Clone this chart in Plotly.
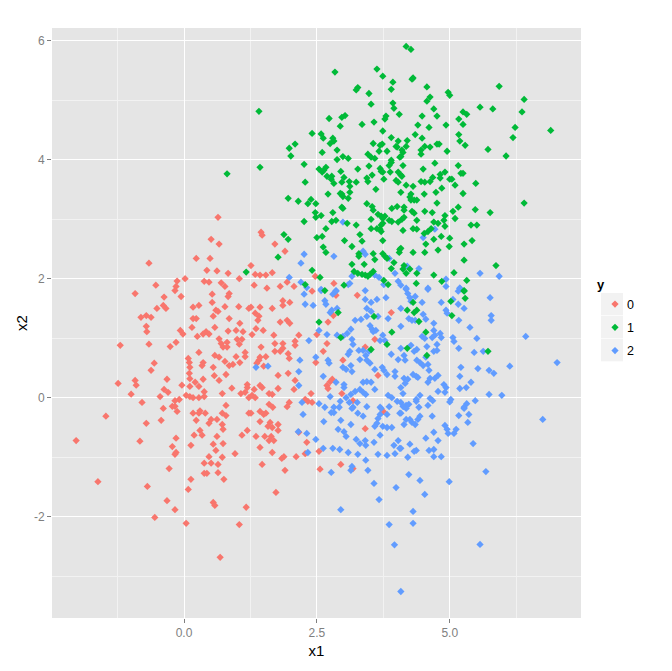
import plotly.graph_objects as go

x0 = [0.64,0.51,0.66,-0.66,0.23,0.49,0.43,0.62,0.83,1.04,0.02,-0.13,-0.15,-0.17,-0.53,-0.92,-0.375,-0.055,0.38,0.47,0.70,0.77,0.53,0.85,0.83,0.53,-0.39,-0.34,-0.51,0.17,0.28,0.60,0.64,0.77,1.03,1.22,-0.81,-0.71,-0.62,0.17,0.23,0.55,0.85,1.05,-0.71,-0.70,-0.07,-0.02,0.15,0.58,0.415,0.36,0.47,0.25,0.83,0.98,1.11,0.66,-1.20,-0.66,-0.15,-0.26,1.0,1.09,1.04,0.70,0.81,0.735,0.81,0.28,1.15,1.15,0.98,0.58,0.66,0.08,0.10,0.11,0.77,1.05,0.92,0.85,0.36,0.34,0.55,-0.56,-0.62,0.10,0.11,0.57,0.79,0.36,0.66,-0.32,-1.24,-0.92,-0.90,0.21,-0.04,0.28,0.11,1.19,1.19,0.90,-0.375,-0.30,-0.995,0.38,0.72,1.07,1.15,-0.45,0.04,0.11,0.17,0.28,0.38,1.22,-0.09,-0.17,
      -0.79,-0.39,-0.22,-0.17,-0.13,0.17,0.28,0.30,0.40,0.79,0.72,0.79,1.22,-1.47,-0.71,-0.43,0.23,0.51,0.62,0.47,0.72,0.735,0.30,0.19,0.34,0.62,1.09,1.19,-2.03,-0.83,-0.15,-0.22,0.13,0.55,0.735,0.60,-0.15,-0.17,0.96,0.47,0.72,0.38,0.51,0.64,-0.28,0.38,0.43,0.64,0.13,0.75,-1.62,-0.69,0.08,-0.32,0.55,0.58,-0.17,1.17,-0.55,0.04,1.04,0.68,
      1.45,1.47,1.71,1.90,1.26,1.34,1.43,1.54,1.66,2.47,2.82,1.56,1.81,1.94,2.07,1.32,2.41,2.86,3.26,1.86,1.99,1.86,1.26,1.43,1.66,1.34,1.41,1.39,1.81,1.94,1.99,2.81,2.71,3.90,1.355,1.49,1.28,1.69,2.16,2.50,2.09,2.09,1.71,1.86,1.45,1.86,1.81,1.71,2.69,2.62,1.96,1.98,1.43,1.54,1.41,1.37,1.50,1.96,1.77,2.48,2.99,3.41,3.59,3.65,2.09,2.07,1.77,1.43,1.32,1.47,2.79,2.75,2.69,2.71,2.97,2.39,1.60,1.66,1.28,1.34,2.28,2.33,2.41,1.98,1.94,1.60,1.67,3.18,
      1.43,1.50,1.54,1.26,1.43,1.62,1.77,1.58,1.66,1.77,2.16,1.355,1.52,1.64,1.60,1.69,2.31,3.41,3.75,1.43,1.66,2.54,2.28,2.11,1.88,1.84,1.47,1.90,2.56,2.95,3.18,1.73]
y0 = [3.03,2.66,2.58,2.26,2.34,2.34,2.14,2.13,2.09,2.0,2.0,1.96,1.87,1.80,1.89,1.75,1.69,1.70,1.955,1.94,1.93,1.87,1.74,1.75,1.70,1.60,1.55,1.50,1.50,1.52,1.55,1.47,1.45,1.53,1.53,1.50,1.35,1.38,1.35,1.33,1.33,1.37,1.33,1.25,1.20,1.11,1.13,1.07,1.18,1.18,1.11,1.07,1.07,1.03,1.12,1.13,1.11,0.99,0.88,0.90,0.93,0.86,0.98,0.98,0.90,0.91,0.93,0.85,0.85,0.76,0.76,0.69,0.69,0.71,0.68,0.66,0.59,0.51,0.61,0.59,0.56,0.54,0.59,0.54,0.51,0.58,0.46,0.41,0.32,0.37,0.39,0.31,0.29,0.31,0.24,0.29,0.21,0.26,0.21,0.19,0.19,0.22,0.17,0.16,0.14,0.09,0.06,0.10,0.07,0.07,0.09,0.02,0.04,0.02,0.0,0.0,0.02,0.0,-0.03,-0.05,
      -0.08,-0.18,-0.145,-0.145,-0.23,-0.26,-0.26,-0.22,-0.26,-0.13,-0.26,-0.30,-0.26,-0.31,-0.43,-0.38,-0.38,-0.365,-0.365,-0.43,-0.45,-0.53,-0.55,-0.63,-0.63,-0.65,-0.63,-0.55,-0.72,-0.73,-0.68,-0.82,-0.80,-0.78,-0.77,-0.885,-0.92,-0.95,-0.94,-0.99,-1.0,-1.10,-1.10,-1.12,-1.19,-1.27,-1.27,-1.26,-1.37,-1.37,-1.41,-1.49,-1.54,-1.73,-1.76,-1.81,-1.88,-1.84,-2.01,-2.11,-2.13,-2.68,
      2.78,2.73,2.58,2.46,2.22,2.07,2.06,2.06,2.10,2.04,1.92,1.84,1.87,1.94,1.87,1.89,1.79,1.72,1.72,1.63,1.60,1.55,1.52,1.52,1.50,1.42,1.37,1.30,1.27,1.30,1.25,1.38,1.27,1.43,1.16,1.13,1.06,1.05,1.05,1.06,0.95,0.88,0.91,0.91,0.85,0.83,0.78,0.78,0.91,0.78,0.74,0.66,0.68,0.69,0.63,0.58,0.53,0.41,0.375,0.59,0.63,0.85,0.98,0.375,0.29,0.14,0.155,0.205,0.14,0.17,0.31,0.27,0.205,0.155,0.07,0.07,0.07,0.055,0.04,0.0,-0.03,-0.06,-0.08,-0.08,-0.15,-0.11,-0.16,-0.05,
      -0.23,-0.28,-0.26,-0.26,-0.40,-0.415,-0.45,-0.48,-0.50,-0.55,-0.58,-0.65,-0.65,-0.65,-0.72,-0.72,-0.75,-0.52,-0.23,-0.835,-0.92,-0.90,-0.94,-0.99,-0.99,-1.02,-1.12,-1.22,-1.20,-1.12,-1.19,-1.59]

x1 = [0.81,1.17,1.41,2.84,3.63,3.74,3.93,3.90,3.27,3.24,3.48,3.52,3.93,3.95,4.05,3.80,3.78,3.03,2.97,2.73,2.94,3.35,3.575,3.74,3.90,2.41,2.58,2.62,2.80,2.82,2.75,2.09,1.98,2.01,2.60,2.88,3.56,3.73,3.69,4.03,3.99,4.01,3.46,3.52,3.59,3.67,3.82,2.99,3.09,2.88,3.90,4.06,
      4.18,4.27,4.31,4.29,4.57,4.97,5.00,4.63,4.57,5.93,6.40,4.70,5.57,5.81,6.36,5.25,5.32,4.48,4.76,5.17,5.25,4.93,4.40,4.61,6.23,6.90,4.35,4.48,5.17,5.19,5.29,6.19,4.20,4.18,4.53,4.63,4.76,4.80,4.95,5.72,6.06,4.10,4.46,4.46,4.12,4.08,
      1.43,2.26,2.54,2.60,2.67,2.63,2.69,2.78,2.77,2.82,2.28,2.95,3.01,2.97,3.11,3.24,3.12,3.27,3.48,3.54,3.44,3.46,3.61,3.71,3.88,3.90,3.86,3.69,3.74,3.76,4.03,3.99,4.03,2.71,2.94,2.97,3.12,2.99,3.09,1.96,2.15,2.39,2.33,2.48,3.44,3.54,2.97,2.99,3.56,3.91,4.01,2.80,2.47,2.48,2.58,3.65,3.71,3.78,3.74,3.52,2.26,2.78,2.86,3.07,3.24,3.86,3.91,4.03,3.74,3.71,3.52,3.63,3.69,3.71,2.67,1.88,1.96,3.31,2.50,2.60,3.02,3.35,3.74,3.16,2.62,2.67,1.77,3.29,3.29,3.56,3.74,3.78,3.82,3.59,3.95,4.06,4.05,3.16,3.39,3.90,2.41,3.20,3.27,3.35,3.41,3.46,3.50,3.56,2.56,3.76,2.28,3.01,3.84,
      4.12,4.50,4.72,5.16,4.91,4.82,4.82,4.68,4.63,4.46,4.53,4.08,4.10,5.00,5.04,5.21,5.25,5.49,5.10,4.18,4.31,4.85,4.08,4.27,4.25,4.27,4.33,4.38,4.52,4.74,5.25,4.76,6.40,4.14,4.14,5.16,5.48,5.76,4.29,4.33,4.53,4.67,5.06,4.91,4.89,5.10,4.14,4.10,4.38,4.70,4.78,4.91,5.40,5.51,4.31,4.38,4.12,4.65,4.59,4.52,4.84,4.70,5.00,5.42,4.55,5.27,4.99,4.08,4.31,4.53,4.78,5.27,5.87,4.14,5.08,4.12,4.25,4.18,4.38,4.70,5.32,4.37,4.85,5.27,
      2.65,2.90,2.54,3.575,3.91,2.95,3.82,3.52,5.27,5.29,5.02,4.31,5.04,4.20,4.33,4.38,4.42,4.55,4.20,4.57,5.72]
y1 = [3.76,2.11,4.81,5.47,5.52,5.40,5.30,5.18,5.21,5.17,5.11,4.93,4.95,4.86,4.76,4.73,4.68,4.74,4.71,4.69,4.56,4.59,4.63,4.48,4.37,4.44,4.43,4.36,4.36,4.31,4.27,4.26,4.19,4.06,4.12,4.16,4.27,4.26,4.24,4.31,4.22,4.21,4.09,4.04,4.02,4.14,4.14,4.05,4.02,4.0,3.99,4.04,
      5.90,5.85,5.37,5.35,5.22,5.13,5.08,5.05,4.98,5.23,5.01,4.85,4.88,4.85,4.80,4.80,4.76,4.73,4.73,4.68,4.59,4.58,4.58,4.54,4.54,4.49,4.42,4.36,4.42,4.31,4.24,4.37,4.32,4.22,4.22,4.21,4.26,4.26,4.14,4.17,4.06,4.16,4.16,4.09,4.12,4.05,
      3.87,3.92,3.84,3.79,3.87,3.82,3.72,3.72,3.67,3.60,3.62,3.80,3.70,3.62,3.63,3.62,3.55,3.84,3.89,3.74,3.69,3.63,3.50,3.80,3.79,3.95,3.90,3.85,3.79,3.67,3.79,3.65,3.62,3.42,3.43,3.42,3.45,3.38,3.35,3.35,3.30,3.33,3.26,3.26,3.26,3.21,3.20,3.18,3.15,3.18,3.21,3.11,3.11,3.03,3.06,3.08,3.05,3.05,3.01,2.997,2.96,2.96,2.98,2.93,2.90,2.98,2.96,2.95,2.93,2.90,2.84,2.84,2.83,2.79,2.84,2.74,2.66,2.74,2.69,2.71,2.64,2.63,2.64,2.54,2.53,2.44,2.36,2.42,2.375,2.42,2.42,2.375,2.34,2.32,2.27,2.49,2.44,2.24,2.24,2.17,2.14,2.12,2.09,2.07,2.06,2.04,2.07,2.12,2.02,1.97,1.90,1.89,1.90,
      3.90,3.84,3.94,3.90,3.79,3.75,3.69,3.70,3.63,3.63,3.62,3.74,3.72,3.67,3.67,3.77,3.77,3.60,3.57,3.57,3.55,3.52,3.45,3.42,3.37,3.32,3.32,3.32,3.42,3.45,3.43,3.27,3.27,3.20,3.15,3.20,3.16,3.11,3.13,3.10,3.13,3.11,3.13,3.06,2.98,3.01,3.03,2.997,2.98,2.95,2.93,2.88,2.90,2.90,2.84,2.83,2.81,2.84,2.79,2.76,2.71,2.66,2.68,2.64,2.58,2.58,2.54,2.51,2.44,2.44,2.48,2.31,2.22,2.22,2.10,2.16,2.16,2.09,2.09,2.06,1.97,1.92,1.955,1.80,
      1.80,1.43,1.27,1.365,1.10,1.01,0.895,0.81,1.79,1.67,1.62,1.60,1.38,1.47,1.43,1.47,1.28,1.10,0.83,0.71,0.78]

x2 = [2.26,2.20,2.82,1.98,2.99,3.37,3.41,3.86,3.97,3.16,3.59,3.67,2.20,2.31,3.12,3.09,3.76,4.03,2.58,2.86,
      4.72,4.50,4.20,4.42,5.57,5.93,4.93,4.93,4.08,4.18,4.59,5.19,
      2.26,2.58,2.86,2.80,3.41,3.41,3.52,3.63,3.80,2.28,2.43,2.65,2.67,3.44,3.52,2.88,2.78,2.75,3.44,3.65,3.84,3.33,3.22,3.50,3.54,3.56,3.61,2.54,2.69,2.88,2.99,3.07,3.14,3.74,2.35,3.16,3.18,3.69,3.78,3.29,3.37,3.12,3.09,3.48,3.42,3.90,4.03,3.31,3.44,3.50,2.18,2.48,2.71,2.73,2.99,3.05,3.14,1.58,1.355,2.16,3.59,3.73,3.76,3.82,3.97,3.97,3.16,2.62,2.86,2.16,3.01,3.01,3.37,3.44,3.52,3.59,3.22,3.31,3.37,3.42,3.14,2.75,3.84,3.91,3.05,4.01,2.22,2.54,2.94,3.11,3.26,2.65,2.82,2.92,3.18,3.44,3.69,3.86,
      4.59,4.18,4.21,4.25,4.35,5.16,5.19,5.76,4.27,4.48,4.84,5.06,5.16,5.27,4.08,4.93,4.95,4.50,5.78,5.78,5.17,4.55,4.23,4.29,4.35,4.70,4.08,5.38,4.70,4.48,4.53,4.67,4.72,4.82,4.84,5.06,5.08,5.51,6.43,4.76,4.27,4.57,5.17,4.08,4.38,4.33,4.76,4.70,5.46,5.63,4.14,4.16,4.55,4.38,4.44,4.50,4.59,7.02,5.21,5.53,5.74,6.13,5.83,4.61,4.31,4.37,4.40,5.19,4.78,4.72,4.63,4.59,4.14,4.21,4.16,5.40,4.89,4.93,5.31,5.19,4.08,4.78,4.91,4.12,5.74,5.98,4.44,4.37,4.37,4.63,4.68,5.02,5.00,5.48,5.32,4.59,4.08,4.23,4.14,4.42,5.27,
      3.16,3.71,2.24,2.77,2.82,3.27,3.37,3.69,3.65,3.82,4.06,2.63,2.95,3.14,3.63,3.59,3.74,3.82,3.91,2.90,3.01,3.05,2.15,2.31,3.69,2.48,3.24,3.41,3.31,3.42,3.575,4.03,3.95,2.62,2.80,2.93,2.33,3.09,3.27,3.65,3.82,3.97,4.06,3.42,3.16,3.14,3.46,2.77,3.575,3.99,3.67,2.95,3.86,
      6.75,4.18,4.18,4.12,5.27,4.08,5.17,5.36,4.67,4.44,4.40,4.18,4.25,4.29,4.35,4.14,5.34,4.91,4.95,4.97,5.12,5.08,4.70,4.55,4.78,5.44,4.25,4.08,4.37,4.33,4.61,4.70,4.21,4.70,4.84,5.68,4.23,4.44,4.99,4.53,4.31,4.31,5.57,4.08,3.96]
y2 = [2.41,2.26,2.375,2.02,2.95,2.46,2.41,2.34,2.09,2.04,2.06,2.02,1.94,1.85,1.92,1.90,1.90,1.955,1.82,1.80,
      2.83,2.69,2.21,2.17,2.09,2.04,1.99,1.87,1.89,1.84,1.84,1.84,
      1.74,1.80,1.79,1.74,1.80,1.65,1.60,1.65,1.68,1.57,1.55,1.63,1.57,1.50,1.45,1.50,1.47,1.43,1.365,1.365,1.33,1.315,1.30,1.21,1.15,1.11,1.13,1.13,1.06,1.05,1.03,1.08,1.15,1.05,0.96,0.98,0.895,0.96,0.96,0.795,0.795,0.78,0.73,0.78,0.71,0.73,0.64,0.64,0.63,0.58,0.63,0.68,0.63,0.58,0.51,0.475,0.54,0.53,0.51,0.44,0.475,0.51,0.46,0.39,0.44,0.36,0.44,0.36,0.26,0.205,0.22,0.17,0.26,0.27,0.26,0.14,0.105,0.14,0.09,0.055,0.055,0.02,0.04,0.0,0.0,-0.06,-0.08,-0.10,-0.06,-0.08,-0.08,-0.16,-0.16,-0.16,-0.16,-0.15,-0.16,-0.15,
      1.82,1.82,1.75,1.68,1.70,1.79,1.84,1.68,1.62,1.60,1.60,1.65,1.57,1.50,1.50,1.47,1.42,1.40,1.38,1.30,1.30,1.32,1.33,1.30,1.30,1.25,1.20,1.18,1.13,1.03,0.995,1.01,1.05,1.08,1.01,1.01,0.945,0.995,1.03,0.895,0.88,0.86,0.83,0.83,0.81,0.78,0.795,0.78,0.76,0.78,0.71,0.63,0.68,0.63,0.59,0.54,0.56,0.59,0.51,0.49,0.46,0.53,0.41,0.46,0.39,0.36,0.34,0.36,0.375,0.325,0.325,0.26,0.325,0.31,0.24,0.26,0.22,0.17,0.17,0.155,0.17,0.105,0.09,0.07,0.055,0.04,0.04,-0.03,-0.06,-0.01,-0.05,-0.03,-0.07,-0.05,-0.10,-0.13,-0.08,-0.11,-0.15,-0.16,-0.16,
      -0.18,-0.18,-0.28,-0.25,-0.25,-0.26,-0.31,-0.28,-0.35,-0.28,-0.26,-0.40,-0.38,-0.45,-0.43,-0.48,-0.48,-0.50,-0.50,-0.53,-0.57,-0.65,-0.57,-0.60,-0.63,-0.70,-0.70,-0.72,-0.77,-0.80,-0.75,-0.72,-0.80,-0.85,-0.85,-0.87,-0.92,-0.92,-0.95,-0.95,-0.97,-0.94,-0.85,-1.05,-1.155,-1.22,-1.22,-1.255,-1.44,-1.51,-1.71,-1.88,-2.13,
      -0.365,-0.13,-0.18,-0.145,-0.18,-0.26,-0.30,-0.28,-0.31,-0.31,-0.365,-0.365,-0.365,-0.415,-0.45,-0.45,-0.415,-0.465,-0.53,-0.60,-0.53,-0.60,-0.58,-0.68,-0.72,-0.77,-0.78,-0.85,-0.885,-0.90,-0.885,-0.87,-1.0,-0.99,-0.99,-1.24,-1.29,-1.39,-1.41,-1.625,-1.91,-2.11,-2.465,-3.255,-2.47]

series = [("0", x0, y0, "#F8766D", 1), ("2", x2, y2, "#619CFF", 3), ("1", x1, y1, "#00BA38", 2)]
x_ticks = [0, 2.5, 5]
x_labels = ["0.0", "2.5", "5.0"]
y_ticks = [-2, 0, 2, 4, 6]
y_labels = ["-2", "0", "2", "4", "6"]

fig = go.Figure()
for name, xs, ys, color, rank in series:
    fig.add_trace(go.Scatter(x=xs, y=ys, mode="markers", name=name, legendrank=rank, legendgroup=name,
                             marker=dict(color=color, size=5.6, symbol="diamond", line=dict(width=0))))

W, H = 672, 671
L, R, T, B = 52, 581, 28, 618
for i in range(3):
    top = 293 + 23 * i
    fig.add_shape(type="rect", xref="paper", yref="paper",
                  x0=(601 - L) / (R - L), x1=(623 - L) / (R - L),
                  y0=(B - top - 22.3) / (B - T), y1=(B - top) / (B - T),
                  fillcolor="#F2F2F2", line_width=0, layer="below")

axis = dict(showline=False, zeroline=False, showgrid=True, gridcolor="#FFFFFF", gridwidth=1.4,
            ticks="outside", ticklen=4, tickwidth=1, tickcolor="#7F7F7F",
            tickfont=dict(family="Liberation Sans", size=12, color="#7F7F7F"))
fig.update_layout(
    width=W, height=H, margin=dict(l=L, r=W - R, t=T, b=H - B, pad=0, autoexpand=False),
    paper_bgcolor="#FFFFFF", plot_bgcolor="#E5E5E5",
    font=dict(family="Liberation Sans", color="#000000"),
    xaxis=dict(axis, range=[-2.484, 7.47], tickvals=x_ticks, ticktext=x_labels,
               minor=dict(dtick=1.25, tick0=0, showgrid=True, gridcolor="#F2F2F2", gridwidth=1, ticks=""),
               title=dict(text="x1", font=dict(size=15), standoff=6)),
    yaxis=dict(axis, range=[-3.70, 6.21], tickvals=y_ticks, ticktext=y_labels,
               minor=dict(dtick=1, tick0=0, showgrid=True, gridcolor="#F2F2F2", gridwidth=1, ticks=""),
               title=dict(text="x2", font=dict(size=15), standoff=2)),
    legend=dict(x=(595 - L) / (R - L), xanchor="left", y=(B - 272.5) / (B - T), yanchor="top",
                bgcolor="rgba(0,0,0,0)", font=dict(size=12.5), tracegroupgap=4, itemwidth=30,
                title=dict(text="<b>y</b>", font=dict(size=13))),
)
fig.write_html("out.html", config=dict(displayModeBar=False), post_script="""
document.body.style.margin = '0';
document.querySelectorAll('.legendtext').forEach(function (t) {
  t.setAttribute('x', parseFloat(t.getAttribute('x')) - 8);
});
""")
